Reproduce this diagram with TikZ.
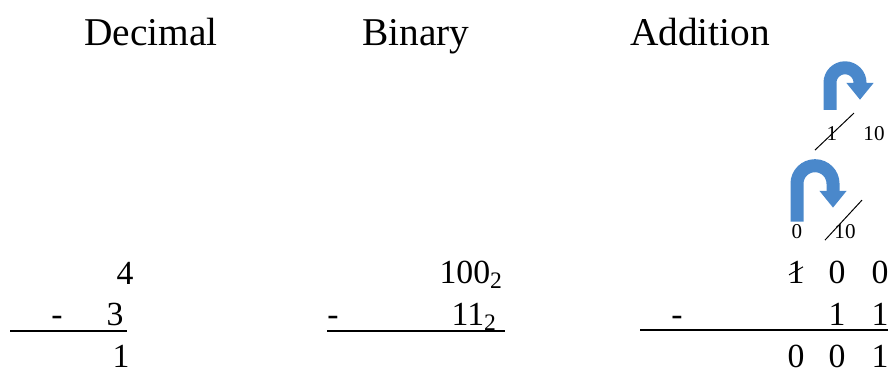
\documentclass[tikz,border=0pt]{standalone}
\usepackage{fontspec}
\setmainfont{Liberation Serif}
\usetikzlibrary{arrows.meta}
\definecolor{ArrowBlue}{HTML}{4A88CB}

\begin{document}
\begin{tikzpicture}[
  x=0.025cm, y=-0.025cm,
  head/.style={anchor=base, inner sep=0pt, font=\fontsize{28}{30}\selectfont},
  digit/.style={anchor=base, inner sep=0pt, font=\fontsize{24}{26}\selectfont},
  small/.style={anchor=base, inner sep=0pt, font=\fontsize{15}{16}\selectfont},
  rule/.style={line width=0.05cm},
  strike/.style={line width=0.7pt},
  borrow/.style={draw=ArrowBlue, line width=0.325cm, -{Triangle[width=0.65cm,length=0.42cm]}}
]
  \useasboundingbox (0,0) rectangle (896,376);

  % headings
  \node[head] (hdec) at (151,45) {Decimal};
  \node[head] (hbin) at (416,45) {Binary};
  \node[head] (hadd) at (700,45) {Addition};

  % decimal
  \node[digit] (d4) at (125,284) {4};
  \node[digit] (dminus) at (57,325) {-};
  \node[digit] (d3) at (115,325) {3};
  \draw[rule] (10,331) -- (127,331);
  \node[digit] (d1) at (121,367) {1};

  % binary
  \node[digit, anchor=base east] (b100) at (503,283) {100\textsubscript{2}};
  \node[digit] (bminus) at (333,325) {-};
  \node[digit, anchor=base east] (b11) at (497,325) {11\textsubscript{2}};
  \draw[rule] (327,331) -- (505,331);

  % addition
  \node[digit] (a1) at (796,283) {1};
  \node[digit] (a2) at (837,283) {0};
  \node[digit] (a3) at (880,283) {0};
  \node[digit] (aminus) at (677,325) {-};
  \node[digit] (b2) at (837,325) {1};
  \node[digit] (b3) at (880,325) {1};
  \draw[rule] (640,330) -- (888,330);
  \node[digit] (c1) at (796,367) {0};
  \node[digit] (c2) at (837,367) {0};
  \node[digit] (c3) at (880,367) {1};
  \draw[strike] (a1.center) ++(-7,3) -- ++(14,-8);

  % borrows
  \node[small] (lzero) at (797,238) {0};
  \node[small] (lten) at (845,238) {10};
  \node[small] (uone) at (832,140) {1};
  \node[small] (uten) at (874,140) {10};
  \draw[strike] (lten.center) ++(-20,9) -- ++(37,-40);
  \draw[strike] (uone.center) ++(-17,17) -- ++(39,-37);

  \draw[borrow] ([yshift=0.05cm]lzero.north) -- ++(0,-38)
    arc[start angle=180, end angle=0, radius=0.45cm] -- ++(0,24);
  \draw[borrow] ([xshift=-0.05cm, yshift=0.4cm]uone.north) -- ++(0,-27)
    arc[start angle=180, end angle=0, radius=0.375cm] -- ++(0,17);
\end{tikzpicture}
\end{document}
